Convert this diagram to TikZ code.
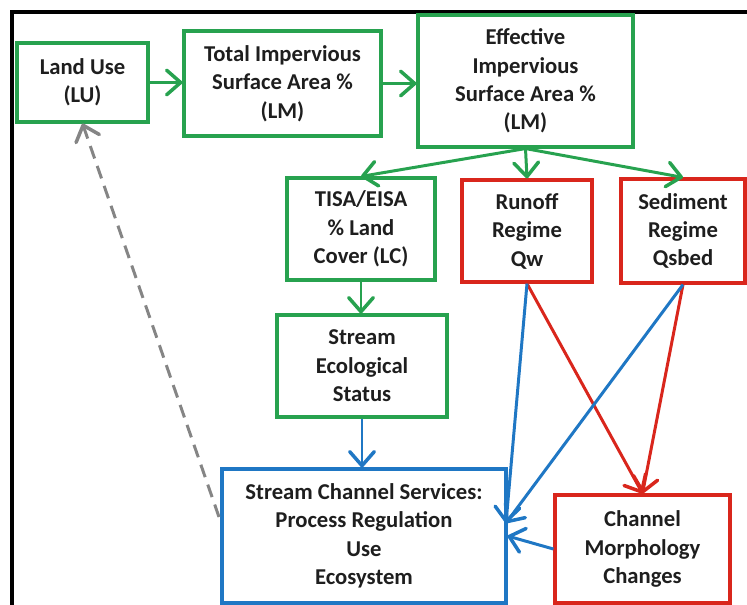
\documentclass[tikz,border=0pt]{standalone}
\usepackage{fontspec}
\setmainfont{Carlito}
\usepackage{xcolor}
\usetikzlibrary{arrows.meta, positioning, calc}
\definecolor{BoxGreen}{HTML}{27A24F}
\definecolor{BoxRed}{HTML}{D9261C}
\definecolor{BoxBlue}{HTML}{1F77C4}
\definecolor{DashGray}{HTML}{858585}
\definecolor{TextGray}{HTML}{1E1E1E}

\begin{document}
\begin{tikzpicture}[x=0.02cm, y=-0.02cm,
    box/.style={draw, line width=1.8pt, inner sep=0pt, align=center, text=TextGray,
        font=\bfseries\fontsize{12.9}{16.2}\selectfont},
    greenbox/.style={box, draw=BoxGreen},
    redbox/.style={box, draw=BoxRed},
    bluebox/.style={box, draw=BoxBlue},
    link/.style={line width=1.7pt, -{Straight Barb[length=8pt, width=14pt, line width=2pt, round]}}]
    \useasboundingbox (0,0) rectangle (747,605);
    \draw[line width=1.8pt] (12,610) -- (12,12) -- (752,12);

    % top row
    \node[greenbox, minimum width=2.62cm, minimum height=1.58cm] (lu) at (82.5,82.5) {Land Use\\(LU)};
    \node[greenbox, minimum width=3.94cm, minimum height=2.10cm] (tisa) at (282.5,83.5) {Total Impervious\\Surface Area \%\\(LM)};
    \node[greenbox, minimum width=4.30cm, minimum height=2.64cm] (eisa) at (525.5,81) {Effective\\Impervious\\Surface Area \%\\(LM)};

    % second row
    \node[greenbox, minimum width=2.96cm, minimum height=2.04cm] (lc) at (361,229) {TISA/EISA\\\% Land\\Cover (LC)};
    \node[redbox, minimum width=2.60cm, minimum height=2.04cm] (runoff) at (527,231) {Runoff\\Regime\\Qw};
    \node[redbox, minimum width=2.48cm, minimum height=2.08cm] (sediment) at (683,231) {Sediment\\Regime\\Qsbed};

    % lower part
    \node[greenbox, minimum width=3.40cm, minimum height=2.04cm] (eco) at (362,366) {Stream\\Ecological\\Status};
    \node[bluebox, minimum width=5.68cm, minimum height=2.68cm] (services) at (364,536) {Stream Channel Services:\\Process Regulation\\Use\\Ecosystem};
    \node[redbox, minimum width=3.50cm, minimum height=2.16cm] (morph) at (642.5,549) {Channel\\Morphology\\Changes};

    \coordinate (hub) at (506,523);
    \coordinate (back) at (219,517);

    \draw[link, BoxGreen] (lu.east) -- (lu.east -| tisa.west);
    \draw[link, BoxGreen] (tisa.east) -- (tisa.east -| eisa.west);
    \draw[link, BoxGreen] (eisa.south) -- (lc.north);
    \draw[link, BoxGreen] (eisa.south) -- (runoff.north);
    \draw[link, BoxGreen] (eisa.south) -- (sediment.north);
    \draw[link, BoxGreen] (lc.south) -- (lc.south |- eco.north);
    \draw[link, BoxBlue] (eco.south) -- (eco.south |- services.north);
    \draw[link, BoxRed] (runoff.south) -- (morph.north);
    \draw[link, BoxRed] (sediment.south) -- (morph.north);
    \draw[link, BoxBlue] (runoff.south) -- (hub);
    \draw[link, BoxBlue] (sediment.south) -- (hub);
    \draw[link, BoxBlue] (morph.west) -- (services.east);
    \draw[link, DashGray, dash pattern=on 7.5pt off 4.5pt] (back) -- (lu.south);
\end{tikzpicture}
\end{document}
